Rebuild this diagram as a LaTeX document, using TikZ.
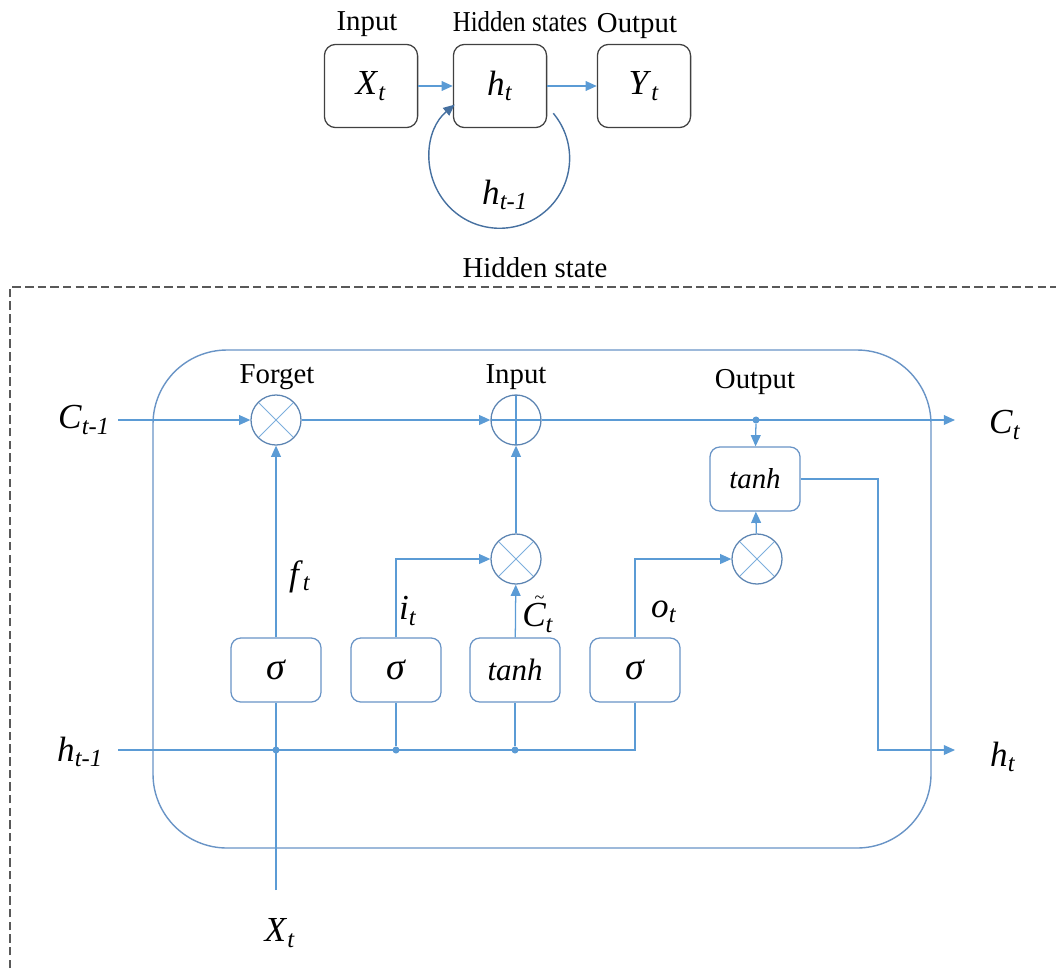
\documentclass[tikz,border=0pt]{standalone}
\usepackage{fontspec}
\setmainfont{Liberation Serif}
\usetikzlibrary{arrows.meta}
\usetikzlibrary{calc}
\usepackage{xcolor}
\definecolor{flow}{RGB}{91,155,213}
\definecolor{cellblue}{RGB}{105,148,198}
\definecolor{ring}{RGB}{92,132,178}
\definecolor{loopblue}{RGB}{70,112,160}
\newcommand{\sub}[2]{{\fontsize{25}{28}\selectfont\textit{#1}\textsubscript{\textit{#2}}}}
\newcommand{\tildeC}{\textit{C}\llap{\raisebox{0.68em}{\fontsize{13}{13}\selectfont\textasciitilde}\hspace{0.04em}}}

\begin{document}
\begin{tikzpicture}[x=0.025cm, y=-0.025cm, font=\fontsize{20.5}{24}\selectfont,
  >={Triangle[length=8pt,width=7pt]},
  topbox/.style={draw=black!75, line width=0.9pt, rounded corners=8pt, minimum width=2.33cm, minimum height=2.08cm},
  gatebox/.style={draw=cellblue, line width=0.9pt, rounded corners=7pt, minimum width=2.25cm, minimum height=1.6cm},
  flowline/.style={flow, line width=0.9pt},
  joint/.style={circle, fill=flow, inner sep=0pt, minimum size=5pt},
  mult/.style={circle, draw=ring, line width=0.9pt, minimum size=1.25cm, inner sep=0pt,
    path picture={\draw[flow!80, line width=0.7pt] (path picture bounding box.center) +(45:0.625cm) -- +(225:0.625cm)
      (path picture bounding box.center) +(135:0.625cm) -- +(315:0.625cm);}},
  plus/.style={circle, draw=ring, line width=0.9pt, minimum size=1.25cm, inner sep=0pt,
    path picture={\draw[flow, line width=0.9pt] (path picture bounding box.center) +(0:0.625cm) -- +(180:0.625cm)
      (path picture bounding box.center) +(90:0.625cm) -- +(270:0.625cm);}}]
\useasboundingbox (0,0) rectangle (1056,968);

% unrolled view
\node[topbox] (xin) at (371,86) {\sub{X}{t}};
\node[topbox] (hid) at (500,86) {\sub{h}{t}};
\node[topbox] (yout) at (644,86) {\sub{Y}{t}};
\node (lin) at (367,24) {Input};
\node (lhid) at (520,22) {\scalebox{0.86}[1]{Hidden states}};
\node (lout) at (637,26) {Output};
\draw[flowline,->] (xin) -- (hid);
\draw[flowline,->] (hid) -- (yout);
\draw[loopblue, line width=1pt, ->] ($(hid.south east)+(6,-15)$) arc[start angle=40, end angle=-230, radius=1.75cm];
\node (hprev) at (505,195) {\sub{h}{t-1}};

% LSTM cell
\draw[black!65, line width=0.9pt, dash pattern=on 6pt off 3pt] (10,968) -- (10,287) -- (1056,287);
\node (lstate) at (535,268) {Hidden state};
\draw[cellblue, line width=1pt, rounded corners=1.85cm] (153,350) rectangle (931,848);

% gates on the cell state line
\node[mult] (fgt) at (276,420) {};
\node[plus] (add) at (516,420) {};
\node[joint] (odot) at (756,420) {};
\node (lfgt) at (277,377) {Forget};
\node (ladd) at (516,377) {Input};
\node (lodot) at (755,382) {Output};
\node[gatebox] (tanhc) at (755,479) {\textit{tanh}};
\node[mult] (mulo) at (757,559) {};
\node[mult] (muli) at (516,559) {};

% activation boxes
\node[gatebox] (sigf) at (276,670) {\fontsize{27}{28}\selectfont\textit{σ}};
\node[gatebox] (sigi) at (396,670) {\fontsize{27}{28}\selectfont\textit{σ}};
\node[gatebox] (tanhi) at (515,670) {\fontsize{22}{24}\selectfont\textit{tanh}};
\node[gatebox] (sigo) at (635,670) {\fontsize{27}{28}\selectfont\textit{σ}};

% in and out
\coordinate (cin) at (118,420);
\coordinate (cout) at (955,420);
\coordinate (hin) at (118,750);
\coordinate (hbend) at (878,750);
\coordinate (hout) at (955,750);
\coordinate (xbot) at (276,890);
\node[joint] (j1) at (276,750) {};
\node[joint] (j2) at (396,750) {};
\node[joint] (j3) at (515,750) {};
\node (lcin) at (84,420) {\sub{C}{t-1}};
\node (lhin) at (80,752) {\sub{h}{t-1}};
\node (lcout) at (1005,425) {\sub{C}{t}};
\node (lhout) at (1003,757) {\sub{h}{t}};
\node (lxin) at (280,933) {\sub{X}{t}};
\node (lf) at (300,577) {\sub{f}{t}};
\node (li) at (408,611) {\sub{i}{t}};
\node (lc) at (538,614) {\sub{\tildeC}{t}};
\node (lo) at (664,612) {\sub{o}{t}};

\draw[flowline,->] (cin) -- (fgt);
\draw[flowline,->] (fgt) -- (add);
\draw[flowline,->] (add.east) -- (cout);
\draw[flowline,->] (odot) -- (tanhc);
\draw[flowline,->] (mulo) -- (tanhc);
\draw[flowline,->] (tanhc.east) -| (hbend) -- (hout);
\draw[flowline,->] (sigf) -- (fgt);
\draw[flowline,->] (sigi) |- (muli);
\draw[flowline,->] (tanhi) -- (muli);
\draw[flowline,->] (muli) -- (add);
\draw[flowline,->] (sigo) |- (mulo);
\draw[flowline] (hin) -| (sigo);
\draw[flowline] (xbot) -- (sigf);
\draw[flowline] (j2) -- (sigi);
\draw[flowline] (j3) -- (tanhi);
\end{tikzpicture}
\end{document}
